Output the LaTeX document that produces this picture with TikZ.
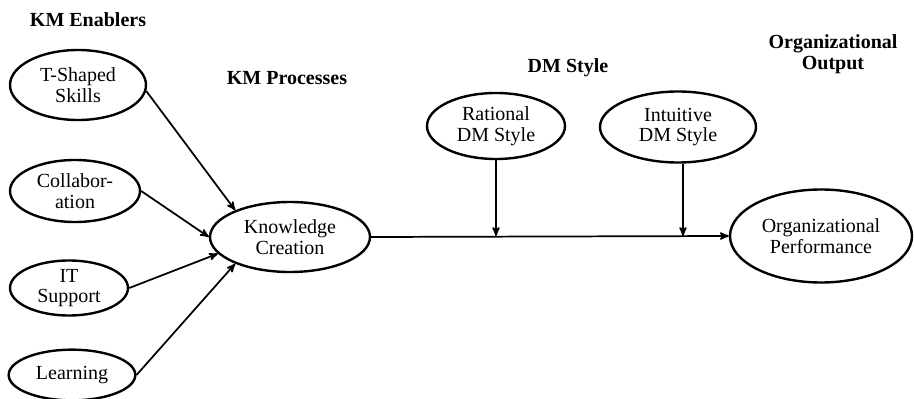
\documentclass[tikz,border=0pt]{standalone}
\usepackage{fontspec}
\setmainfont{Liberation Serif}
\usepackage{tikz}
\usetikzlibrary{arrows,shapes.geometric}

\begin{document}
\begin{tikzpicture}[x=0.75pt,y=-0.75pt,->,>=stealth',line width=1.3pt,
        construct/.style={ellipse,draw,line width=1.8pt,inner sep=0pt,align=center,
          font=\fontsize{15}{15.5}\selectfont},
        heading/.style={align=center,font=\fontsize{15}{15.5}\selectfont\bfseries}]

  \useasboundingbox (0,0) rectangle (914,399);

  % headings
  \node[heading] (h_en)  at (88,20)  {KM Enablers};
  \node[heading] (h_pr)  at (287,78) {KM Processes};
  \node[heading] (h_dm)  at (568,68) {DM Style};
  \node[heading] (h_out) at (833,54) {Organizational\\Output};

  % constructs
  \node[construct,minimum width=102pt,minimum height=52.5pt] (tss) at (78,85)  {T-Shaped\\Skills};
  \node[construct,minimum width=97.5pt,minimum height=46.5pt] (col) at (75,191) {Collabor-\\ation};
  \node[construct,minimum width=88.5pt,minimum height=41.25pt] (its) at (69,288) {IT\\Support};
  \node[construct,minimum width=95pt,minimum height=38pt] (lrn) at (72,375) {Learning};
  \node[construct,minimum width=120pt,minimum height=52.5pt] (kc)  at (290,237) {Knowledge\\Creation};
  \node[construct,minimum width=103.5pt,minimum height=49.5pt] (rat) at (496,126) {Rational\\DM Style};
  \node[construct,minimum width=117pt,minimum height=53.25pt] (int) at (678,127) {Intuitive\\DM Style};
  \node[construct,minimum width=136.5pt,minimum height=69.75pt] (op) at (821,236) {Organizational\\Performance};

  \coordinate (m_rat) at (rat.south |- op.west);
  \coordinate (m_int) at (683,236);

  \path (tss.-5) edge (kc.154)
        (col.east) edge (kc.180)
        (its.east) edge (kc.193)
        (lrn.east) edge (kc.206)
        (kc.east) edge (op.west)
        (rat.south) edge (m_rat)
        (int.south -| m_int) edge (m_int);

\end{tikzpicture}
\end{document}
